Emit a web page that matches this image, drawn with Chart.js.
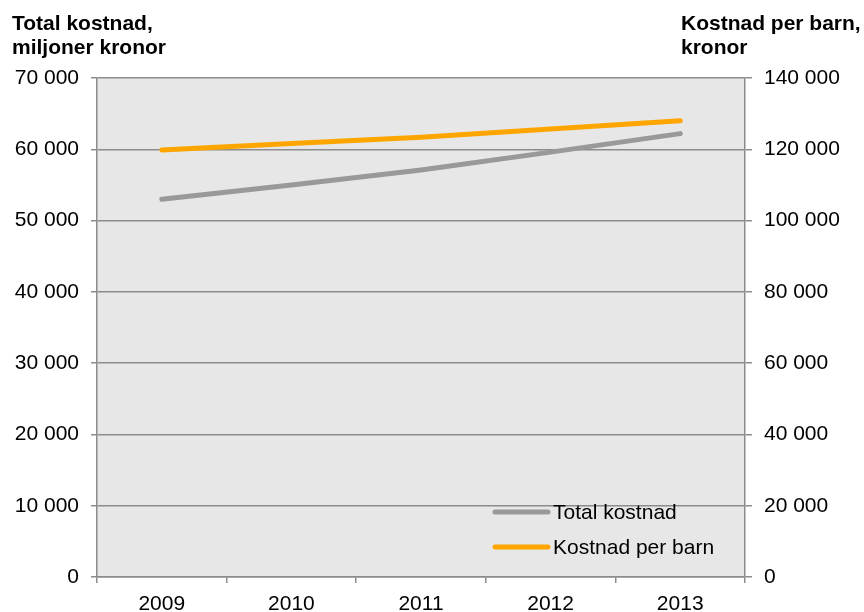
<!DOCTYPE html>
<html><head><meta charset="utf-8">
<script src="https://cdn.jsdelivr.net/npm/chart.js@4/dist/chart.umd.min.js"></script>
<style>html,body{margin:0;padding:0;background:#fff}#wrap{position:relative;width:864px;height:612px}</style>
</head><body><div id="wrap"><canvas id="c" width="864" height="612"></canvas></div>
<script>
const years = ['2009','2010','2011','2012','2013'];
const totalKostnad = [53000, 55000, 57100, 59600, 62200];
const kostnadPerBarn = [119800, 121600, 123400, 125700, 128000];
const leftTitle = ['Total kostnad,', 'miljoner kronor'];
const rightTitle = ['Kostnad per barn,', 'kronor'];
const seriesNames = ['Total kostnad', 'Kostnad per barn'];
const seriesColors = ['#999999', '#ffa500'];

const FONT = '"Liberation Sans", Arial, sans-serif';
const fmt = v => String(v).replace(/\B(?=(\d{3})+(?!\d))/g, ' ');
const gridCol = '#8c8c8c';

const decor = {
  id: 'decor',
  beforeDraw(chart) {
    const {ctx, chartArea: a} = chart;
    ctx.save();
    ctx.fillStyle = '#e7e7e7';
    ctx.fillRect(a.left, a.top, a.right - a.left, a.bottom - a.top);
    ctx.restore();
  },
  afterDraw(chart) {
    const {ctx} = chart;
    ctx.save();
    ctx.fillStyle = '#000';
    ctx.font = 'bold 21px ' + FONT;
    ctx.textBaseline = 'alphabetic';
    ctx.textAlign = 'left';
    leftTitle.forEach((t, i) => ctx.fillText(t, 12, 30 + i * 24));
    rightTitle.forEach((t, i) => ctx.fillText(t, 681, 30 + i * 24));
    // legend
    ctx.font = '21px ' + FONT;
    ctx.textBaseline = 'middle';
    seriesNames.forEach((n, i) => {
      const y = 512 + i * 35;
      ctx.strokeStyle = seriesColors[i];
      ctx.lineWidth = 5;
      ctx.lineCap = 'round';
      ctx.beginPath(); ctx.moveTo(495, y); ctx.lineTo(548, y); ctx.stroke();
      ctx.fillStyle = '#000';
      ctx.fillText(n, 553, y + 1);
    });
    ctx.restore();
  }
};

new Chart(document.getElementById('c'), {
  type: 'line',
  data: {
    labels: years,
    datasets: [
      {label: seriesNames[0], data: totalKostnad, yAxisID: 'y', borderColor: seriesColors[0], borderWidth: 5,
       pointRadius: 0, tension: 0, borderCapStyle: 'round', borderJoinStyle: 'round'},
      {label: seriesNames[1], data: kostnadPerBarn, yAxisID: 'y1', borderColor: seriesColors[1], borderWidth: 5,
       pointRadius: 0, tension: 0, borderCapStyle: 'round', borderJoinStyle: 'round'}
    ]
  },
  options: {
    responsive: false,
    animation: false,
    devicePixelRatio: 1,
    layout: {padding: {top: 78, left: 0, right: 0, bottom: 0}},
    plugins: {legend: {display: false}, tooltip: {enabled: false}},
    scales: {
      x: {
        offset: true,
        grid: {offset: true, drawOnChartArea: false, drawTicks: true, tickLength: 6, color: gridCol, lineWidth: 1.5},
        border: {display: true, color: gridCol, width: 1.5},
        ticks: {color: '#000', font: {family: FONT, size: 21}, padding: 9, maxRotation: 0},
        afterFit(s) { s.height = 35; }
      },
      y: {
        position: 'left', min: 0, max: 70000,
        grid: {color: gridCol, lineWidth: 1.5, tickLength: 6, drawTicks: true},
        border: {display: true, color: gridCol, width: 1.5},
        ticks: {stepSize: 10000, color: '#000', font: {family: FONT, size: 21}, padding: 12, callback: v => fmt(v)},
        afterFit(s) { s.width = 97; }
      },
      y1: {
        position: 'right', min: 0, max: 140000,
        grid: {drawOnChartArea: false, color: gridCol, lineWidth: 1.5, tickLength: 7, drawTicks: true},
        border: {display: true, color: gridCol, width: 1.5},
        ticks: {stepSize: 20000, color: '#000', font: {family: FONT, size: 21}, padding: 12, callback: v => fmt(v)},
        afterFit(s) { s.width = 119; }
      }
    }
  },
  plugins: [decor]
});
</script></body></html>
